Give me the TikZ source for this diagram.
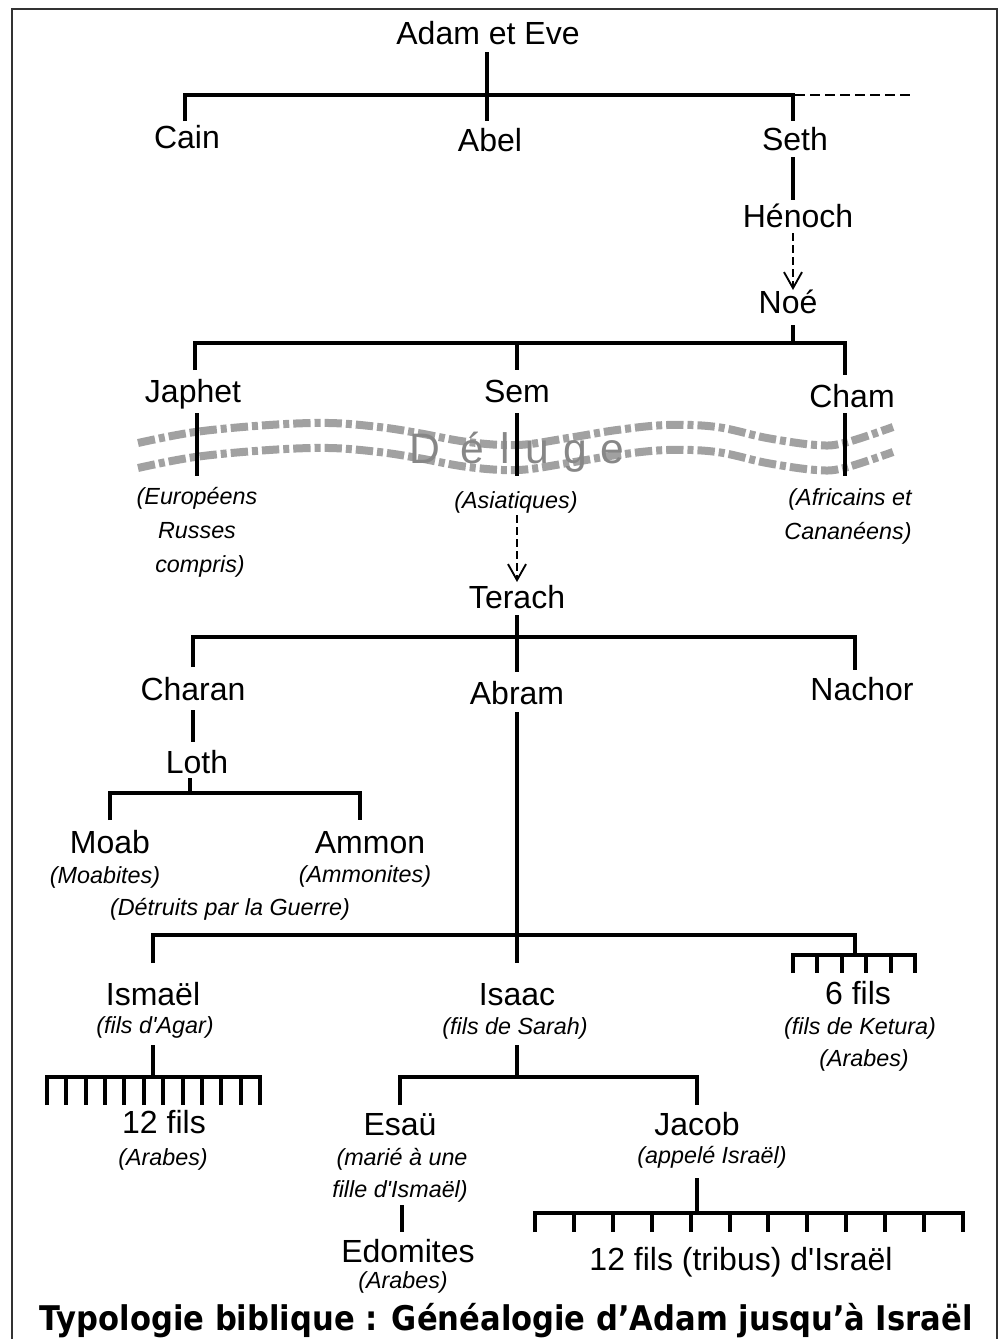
\documentclass[tikz,border=0pt]{standalone}
\usepackage{fontspec}
\setmainfont{Liberation Sans}
\newfontfamily\ttlfont{DejaVu Sans}
\usepackage{graphicx}
\usetikzlibrary{arrows.meta}
\newlength\ttlw
\newcommand\ttltext{\ttlfont\bfseries\fontsize{25.5pt}{30pt}\selectfont Typologie biblique : Généalogie d’Adam jusqu’à Israël}
\newcommand\sq{\textquotesingle}
\begin{document}
\settowidth{\ttlw}{\ttltext}%
\pgfmathsetmacro{\tsx}{699.75/\ttlw}%
\begin{tikzpicture}[x=0.75pt,y=-0.75pt,
  tree/.style={line width=3pt, line join=miter},
  frame/.style={line width=1.5pt, black!80},
  nm/.style={font=\fontsize{24pt}{28pt}\selectfont, anchor=base, inner sep=0pt},
  it/.style={font=\fontsize{17.5pt}{20pt}\selectfont\itshape, anchor=base, inner sep=0pt},
  darr/.style={line width=2.2pt, dash pattern=on 6pt off 3pt, -{Straight Barb[length=12pt,width=13.5pt,line width=1.4pt]}},
  topdash/.style={line width=2pt, dash pattern=on 7.5pt off 3.75pt},
  band/.style={line width=6pt, black!37, dash pattern=on 13pt off 3pt on 4.5pt off 3pt},
  delu/.style={font=\fontsize{32pt}{36pt}\selectfont, text=black!47, anchor=base, inner sep=0pt},
  ttl/.style={anchor=base, inner sep=0pt}]
\useasboundingbox (0,0) rectangle (1000,1339);
% frame
\draw[frame] (11.5,1350)--(11.5,9)--(997,9)--(997,1350);

% ---- Deluge band
\draw[band] plot[smooth, tension=0.6] coordinates {(138,443) (195,432) (269,425) (329,423) (379,427) (418,433) (468,442) (518,445) (568,438) (617,430) (667,425) (717,427) (767,438) (816,445) (844,443) (893,427)};
\draw[band] plot[smooth, tension=0.6] coordinates {(138,468) (195,457) (269,450) (329,448) (379,452) (418,458) (468,467) (518,470) (568,463) (617,455) (667,450) (717,452) (767,463) (816,470) (844,468) (893,452)};
\node[delu] (dD) at (425,463) {D};
\node[delu] (de1) at (472,463) {é};
\node[delu] (dl) at (505,463) {l};
\node[delu] (du) at (537,463) {u};
\node[delu] (dg) at (575,463) {g};
\node[delu] (de2) at (612,463) {e};

% ---- names
\node[nm] (adam) at (488,44) {Adam et Eve};
\node[nm] (cain) at (187,148) {Cain};
\node[nm] (abel) at (490,151) {Abel};
\node[nm] (seth) at (795,150) {Seth};
\node[nm] (henoch) at (798,227) {Hénoch};
\node[nm] (noe) at (788,313) {Noé};
\node[nm] (japhet) at (193,402) {Japhet};
\node[nm] (sem) at (517,402) {Sem};
\node[nm] (cham) at (852,407) {Cham};
\node[it] (eur1) at (197,504) {(Européens};
\node[it] (eur2) at (197,538) {Russes};
\node[it] (eur3) at (200,572) {compris)};
\node[it] (asia) at (516,508) {(Asiatiques)};
\node[it] (afr1) at (850,505) {(Africains et};
\node[it] (afr2) at (848,539) {Cananéens)};
\node[nm] (terach) at (517,608) {Terach};
\node[nm] (charan) at (193,700) {Charan};
\node[nm] (abram) at (517,704) {Abram};
\node[nm] (nachor) at (862,700) {Nachor};
\node[nm] (loth) at (197,773) {Loth};
\node[nm] (moab) at (110,853) {Moab};
\node[nm] (ammon) at (370,853) {Ammon};
\node[it] (moabites) at (105,883) {(Moabites)};
\node[it] (ammonites) at (365,882) {(Ammonites)};
\node[it] (detruits) at (230,915) {(Détruits par la Guerre)};
\node[nm] (ismael) at (153,1005) {Ismaël};
\node[it] (agar) at (155,1033) {(fils d\sq Agar)};
\node[nm] (isaac) at (517,1005) {Isaac};
\node[it] (sarah) at (515,1034) {(fils de Sarah)};
\node[nm] (sixfils) at (858,1004) {6 fils};
\node[it] (ketura) at (860,1034) {(fils de Ketura)};
\node[it] (arabes1) at (864,1066) {(Arabes)};
\node[nm] (douzefils) at (164,1133) {12 fils};
\node[it] (arabes2) at (163,1165) {(Arabes)};
\node[nm] (esau) at (400,1135) {Esaü};
\node[it] (marie1) at (402,1165) {(marié à une};
\node[it] (marie2) at (400,1197) {fille d\sq Ismaël)};
\node[nm] (jacob) at (697,1135) {Jacob};
\node[it] (appele) at (712,1163) {(appelé Israël)};
\node[nm] (edomites) at (408,1262) {Edomites};
\node[it] (arabes3) at (403,1288) {(Arabes)};
\node[nm] (tribus) at (741,1270) {12 fils (tribus) d\sq Israël};

% ---- title
\node[ttl] (title) at (506,1330) {\scalebox{\tsx}[1]{\ttltext}};

% ---- tree lines
\coordinate (b1l) at (185,95);
\coordinate (b1r) at (793,95);
\draw[tree] (185,121) -- (b1l) -- (b1r) -- (793,121);
\draw[tree] (487,52) -- (487,121);
\coordinate (dashend) at (912,95);
\draw[topdash] (795,95) -- (dashend);
\draw[tree] (793,157) -- (793,200);
\draw[darr] (793,233) -- (793,290);
\draw[tree] (793,325) -- (793,343);
\draw[tree] (195,370) -- (195,343) -- (845,343) -- (845,375);
\draw[tree] (517,343) -- (517,370);
\draw[tree] (197,413) -- (197,476);
\draw[tree] (517,413) -- (517,476);
\draw[tree] (845,413) -- (845,476);
\draw[darr] (517,515) -- (517,582);
\draw[tree] (517,615) -- (517,672);
\draw[tree] (193,667) -- (193,637) -- (855,637) -- (855,670);
\draw[tree] (193,710) -- (193,742);
\draw[tree] (190,778) -- (190,793);
\draw[tree] (110,820) -- (110,793) -- (360,793) -- (360,820);
\draw[tree] (517,712) -- (517,963);
\draw[tree] (153,963) -- (153,935) -- (855,935) -- (855,955);
% 6 fils comb
\draw[tree] (793,973) -- (793,955) -- (915,955) -- (915,973);
\foreach \i in {1,...,4} \draw[tree] ({793+\i*24.4},955) -- ++(0,18);
% Ismael comb
\draw[tree] (153,1045) -- (153,1077);
\draw[tree] (47,1105) -- (47,1077) -- (260,1077) -- (260,1105);
\foreach \i in {1,...,10} \draw[tree] ({47+\i*19.364},1077) -- ++(0,28);
% Isaac
\draw[tree] (517,1045) -- (517,1077);
\draw[tree] (400,1105) -- (400,1077) -- (697,1077) -- (697,1105);
\draw[tree] (402,1205) -- (402,1232);
% Jacob comb
\draw[tree] (697,1178) -- (697,1213);
\draw[tree] (535,1232) -- (535,1213) -- (963,1213) -- (963,1232);
\foreach \i in {1,...,10} \draw[tree] ({535+\i*38.909},1213) -- ++(0,19);
\end{tikzpicture}
\end{document}
